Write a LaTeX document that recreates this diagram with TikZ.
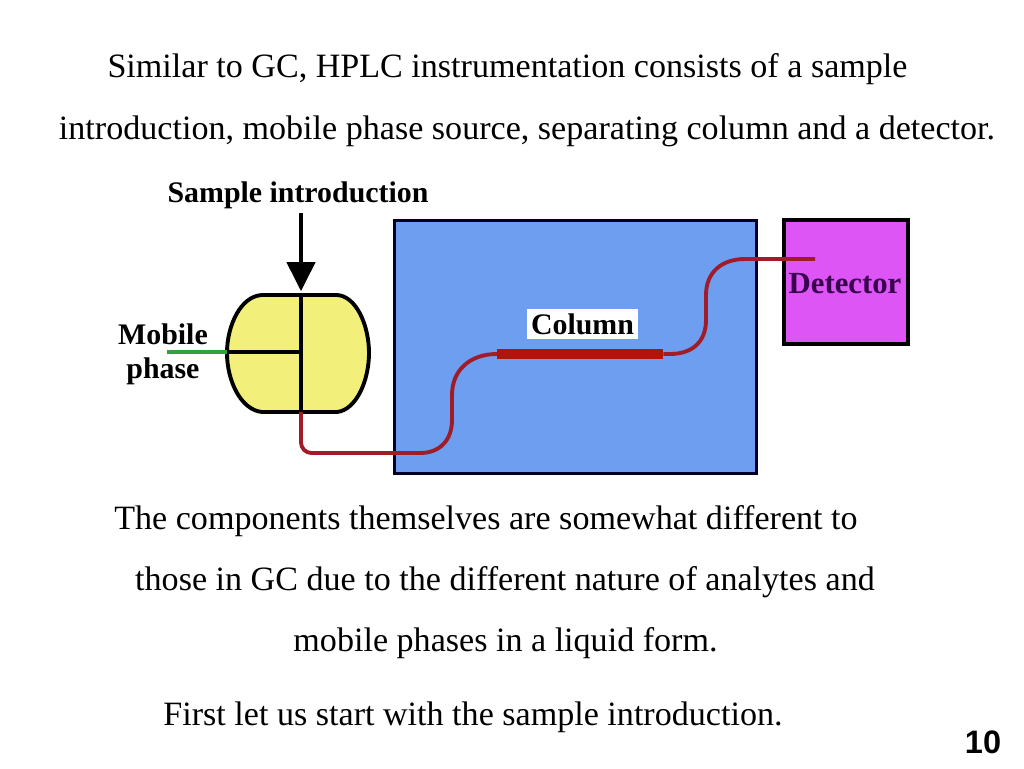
\documentclass[tikz,border=0pt]{standalone}
\usepackage{fontspec}
\setmainfont{Liberation Serif}
\setsansfont{Liberation Sans}
\usetikzlibrary{arrows.meta,positioning}
\definecolor{ovenblue}{HTML}{6D9EF0}
\definecolor{detpurple}{HTML}{DD55F5}
\definecolor{valveyellow}{HTML}{F2F07A}
\definecolor{tubered}{HTML}{A01C28}
\definecolor{barred}{HTML}{B01508}
\definecolor{mobgreen}{HTML}{35A040}
\definecolor{dettext}{HTML}{3A0050}

\begin{document}
\begin{tikzpicture}[x=0.02cm, y=-0.02cm, thick]

		\tikzstyle{para}=[font=\fontsize{19.4}{21}\selectfont, anchor=base, inner sep=0pt]
		\tikzstyle{lab}=[font=\fontsize{17}{19.3}\selectfont\bfseries, text=black, align=center]
		\tikzstyle{tube}=[tubered, line width=2.2pt]

		\useasboundingbox (0,0) rectangle (1024,768);

		% text
		\node[para] (t1) at (507.5,77.5) {Similar to GC, HPLC instrumentation consists of a sample};
		\node[para] (t2) at (527,139.5) {introduction, mobile phase source, separating column and a detector.};
		\node[para] (t3) at (486,529.5) {The components themselves are somewhat different to};
		\node[para] (t4) at (505,590.5) {those in GC due to the different nature of analytes and};
		\node[para] (t5) at (505.5,651.5) {mobile phases in a liquid form.};
		\node[para] (t6) at (473,725.5) {First let us start with the sample introduction.};
		\node[font=\sffamily\bfseries\fontsize{18.5}{20}\selectfont, inner sep=0pt] (num) at (983,742) {10};

		% oven and detector
		\node[draw=black!85!blue, fill=ovenblue, line width=1.7pt, minimum width=363*0.5669pt, minimum height=254*0.5669pt, inner sep=0pt] (oven) at (575.5,347) {};
		\node[draw=black, fill=detpurple, line width=2.4pt, minimum width=124*0.5669pt, minimum height=124*0.5669pt, inner sep=0pt] (det) at (846,282) {};
		\node[lab, font=\fontsize{17.5}{19}\selectfont\bfseries, text=dettext, inner sep=0pt] (detlab) at (845,284) {Detector};

		% valve
		\coordinate (vtop) at (301,295);
		\coordinate (vbot) at (301,412);
		\coordinate (vleft) at (227,352);
		\coordinate (vmid) at (301,352);
		\filldraw[fill=valveyellow, draw=black, line width=2.2pt]
			(262,295) -- (337,295) .. controls (356,296) and (369,325) .. (369,353)
			.. controls (369,381) and (356,410) .. (337,412) -- (262,412)
			.. controls (241,410) and (227,381) .. (227,353)
			.. controls (227,325) and (241,296) .. (262,295) -- cycle;

		% tubing
		\node[fill=barred, minimum width=166*0.5669pt, minimum height=11*0.5669pt, inner sep=0pt] (bar) at (580,354) {};
		\coordinate (tubeend) at (815,259);
		\draw[tube, rounded corners=6pt] (vbot) -- (301,453) -- (398,453);
		\draw[tube] (398,453) -- (420,453) .. controls (440,453) and (452,440) .. (452,420)
			-- (452,395) .. controls (452,370) and (470,354) .. (497,354) -- (bar.west);
		\draw[tube] (bar.east) -- (670,354) .. controls (692,354) and (706,342) .. (706,320)
			-- (706,295) .. controls (706,272) and (722,259) .. (745,259) -- (tubeend);

		\draw[black, line width=2.2pt] (vtop) -- (vbot);
		\draw[black, line width=2.2pt] (vleft) -- (vmid);

		% labels and inlets
		\node[lab, inner sep=2pt] (sample) at (298,195) {Sample introduction};
		\node[lab, fill=white, inner sep=2.5pt] (collab) at (582.5,324) {Column};
		\node[lab, inner sep=0pt] (moblab) at (163,354) {Mobile\\phase};
		\coordinate (mobin) at (167,352);
		\draw[mobgreen, line width=2pt] (mobin) -- (vleft);
		\draw[-{Triangle[length=16.5pt, width=16pt]}, black, line width=2.3pt, shorten >=2.2pt] (sample.south -| vtop) -- (vtop);
\end{tikzpicture}
\end{document}
